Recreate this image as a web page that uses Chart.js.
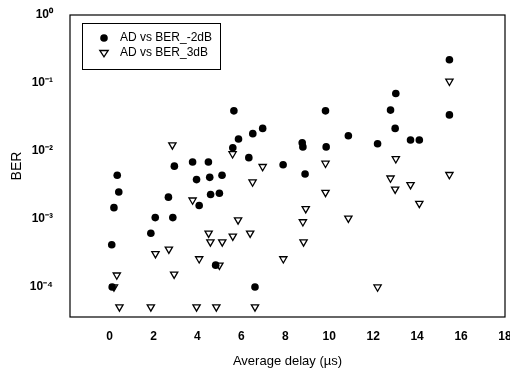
<!DOCTYPE html>
<html>
<head>
<meta charset="utf-8">
<script src="https://cdn.jsdelivr.net/npm/chart.js@4/dist/chart.umd.min.js"></script>
<style>
  html, body { margin: 0; padding: 0; background: #fff; overflow: hidden; }
  #wrap { width: 520px; height: 373px; }
</style>
</head>
<body>
<div id="wrap"><canvas id="myChart" width="520" height="373"></canvas></div>
<script>
// #-------------- Chart Data --------------#

// AD vs BER_-2dB (filled circles)
const delayMinus2dB = [0.1, 0.12, 0.2, 0.35, 0.42, 1.88, 2.08, 2.68, 2.88, 2.95,
    3.78, 3.96, 4.08, 4.5, 4.56, 4.6, 4.83, 5.0, 5.12, 5.61,
    5.66, 5.87, 6.34, 6.52, 6.62, 6.97, 7.9, 8.77, 8.8, 8.9,
    9.83, 9.86, 10.87, 12.2, 12.79, 13.0, 13.03, 13.7, 14.1, 15.47, 15.47];
const berMinus2dB = [4.2e-4, 1.0e-4, 1.47e-3, 4.4e-3, 2.5e-3, 6.2e-4, 1.05e-3, 2.1e-3, 1.05e-3, 6.0e-3,
    6.9e-3, 3.8e-3, 1.58e-3, 6.9e-3, 4.1e-3, 2.3e-3, 2.1e-4, 2.4e-3, 4.4e-3, 0.0112,
    0.039, 0.015, 8.0e-3, 0.018, 1.0e-4, 0.0215, 6.3e-3, 0.0132, 0.0115, 4.6e-3,
    0.039, 0.0115, 0.0168, 0.0128, 0.04, 0.0215, 0.07, 0.0145, 0.0145, 0.22, 0.034];

// AD vs BER_3dB (open triangles)
const delay3dB = [0.2, 0.33, 0.45, 1.88, 2.09, 2.7, 2.86, 2.94, 3.78, 3.96,
    4.08, 4.51, 4.59, 4.86, 5.0, 5.13, 5.6, 5.61, 5.85, 6.4,
    6.51, 6.62, 6.97, 7.91, 8.8, 8.83, 8.93, 9.83, 9.83, 10.87,
    12.2, 12.79, 13.0, 13.03, 13.7, 14.1, 15.47, 15.47];
const ber3dB = [1.0e-4, 1.5e-4, 5.1e-5, 5.1e-5, 3.1e-4, 3.6e-4, 0.0123, 1.55e-4, 1.9e-3, 5.1e-5,
    2.6e-4, 6.2e-4, 4.6e-4, 5.1e-5, 2.1e-4, 4.6e-4, 9.1e-3, 5.6e-4, 9.7e-4, 6.2e-4,
    3.5e-3, 5.1e-5, 5.9e-3, 2.6e-4, 9.1e-4, 4.6e-4, 1.42e-3, 6.6e-3, 2.46e-3, 1.03e-3,
    1.0e-4, 4.0e-3, 2.75e-3, 7.7e-3, 3.2e-3, 1.7e-3, 0.106, 4.5e-3];

// Tick labels
const xTickValues = [0, 2, 4, 6, 8, 10, 12, 14, 16, 18];
const yTickValues = [1e-4, 1e-3, 1e-2, 1e-1, 1];
const yTickLabels = ['10\u207B\u2074', '10\u207B\u00B3', '10\u207B\u00B2', '10\u207B\u00B9', '10\u2070'];

const seriesNames = ['AD vs BER_-2dB', 'AD vs BER_3dB'];

// #-------------- Helpers --------------#

function toPoints(xs, ys) {
    return xs.map((x, i) => ({ x: x, y: ys[i] }));
}

const fontFamily = 'Arial, "Liberation Sans", sans-serif';

// Box frame around the plot area plus the boxed legend in the top-left
const framePlugin = {
    id: 'frame',
    afterDraw(chart) {
        const ctx = chart.ctx;
        const a = chart.chartArea;
        ctx.save();
        ctx.strokeStyle = '#000';
        ctx.lineWidth = 1.2;
        ctx.strokeRect(a.left, a.top, a.right - a.left, a.bottom - a.top);

        // legend box
        const bx = a.left + 12, by = a.top + 8, bw = 138, bh = 46;
        ctx.lineWidth = 1;
        ctx.strokeRect(bx + 0.5, by + 0.5, bw, bh);
        ctx.font = '12px ' + fontFamily;
        ctx.textBaseline = 'middle';
        chart.data.datasets.forEach((ds, i) => {
            const cy = by + 15 + i * 15;
            const cx = bx + 22;
            ctx.fillStyle = ds.pointBackgroundColor;
            ctx.strokeStyle = '#000';
            ctx.beginPath();
            if (ds.pointStyle === 'circle') {
                ctx.arc(cx, cy, ds.pointRadius, 0, Math.PI * 2);
                ctx.fill();
            } else {
                const r = ds.pointRadius;
                ctx.moveTo(cx - r, cy - r * 0.6);
                ctx.lineTo(cx + r, cy - r * 0.6);
                ctx.lineTo(cx, cy + r * 0.9);
                ctx.closePath();
                ctx.fill();
                ctx.lineWidth = ds.borderWidth;
                ctx.stroke();
            }
            ctx.fillStyle = '#000';
            ctx.fillText(ds.label, bx + 38, cy);
        });
        ctx.restore();
    }
};

// #-------------- Chart --------------#

const chart = new Chart(document.getElementById('myChart').getContext('2d'), {
    type: 'scatter',
    data: {
        datasets: [{
            label: seriesNames[0],
            data: toPoints(delayMinus2dB, berMinus2dB),
            pointStyle: 'circle',
            pointRadius: 3.8,
            borderWidth: 0,
            pointBackgroundColor: '#000',
            backgroundColor: '#000',
            borderColor: '#000',
        }, {
            label: seriesNames[1],
            data: toPoints(delay3dB, ber3dB),
            pointStyle: 'triangle',
            pointRadius: 4.2,
            rotation: 180,
            borderWidth: 1.3,
            pointBackgroundColor: '#fff',
            backgroundColor: '#fff',
            borderColor: '#000',
        }]
    },
    options: {
        responsive: false,
        animation: false,
        layout: { padding: { top: 15, right: 15, left: 0, bottom: 0 } },
        plugins: {
            legend: { display: false },
            tooltip: { enabled: false },
        },
        scales: {
            x: {
                type: 'linear',
                min: -1.8,
                max: 18,
                afterBuildTicks: (axis) => { axis.ticks = xTickValues.map(v => ({ value: v })); },
                afterFit: (axis) => {
                    axis.height = 56;
                    axis.paddingLeft = 0;
                    axis.paddingRight = 0;
                },
                grid: { display: false, drawTicks: true, tickLength: 3, color: '#000' },
                border: { display: false },
                ticks: {
                    color: '#000',
                    padding: 9,
                    maxRotation: 0,
                    autoSkip: false,
                    font: { family: fontFamily, size: 12, weight: 'bold' },
                },
                title: {
                    display: true,
                    text: 'Average delay (\u00B5s)',
                    color: '#000',
                    font: { family: fontFamily, size: 13 },
                    padding: { top: 6 },
                },
            },
            y: {
                type: 'logarithmic',
                min: Math.pow(10, -4.44),
                max: 1,
                afterBuildTicks: (axis) => { axis.ticks = yTickValues.map(v => ({ value: v })); },
                afterFit: (axis) => {
                    axis.width = 70;
                    axis.paddingTop = 0;
                    axis.paddingBottom = 0;
                },
                grid: { display: false, drawTicks: true, tickLength: 3, color: '#000' },
                border: { display: false },
                ticks: {
                    color: '#000',
                    padding: 14,
                    autoSkip: false,
                    font: { family: fontFamily, size: 12, weight: 'bold' },
                    callback: (value) => {
                        const idx = yTickValues.findIndex(v => Math.abs(Math.log10(v) - Math.log10(value)) < 1e-6);
                        return idx >= 0 ? yTickLabels[idx] : '';
                    },
                },
                title: {
                    display: true,
                    text: 'BER',
                    color: '#000',
                    font: { family: fontFamily, size: 14 },
                    padding: { top: 9, bottom: 0 },
                },
            },
        },
    },
    plugins: [framePlugin],
});
</script>
</body>
</html>
